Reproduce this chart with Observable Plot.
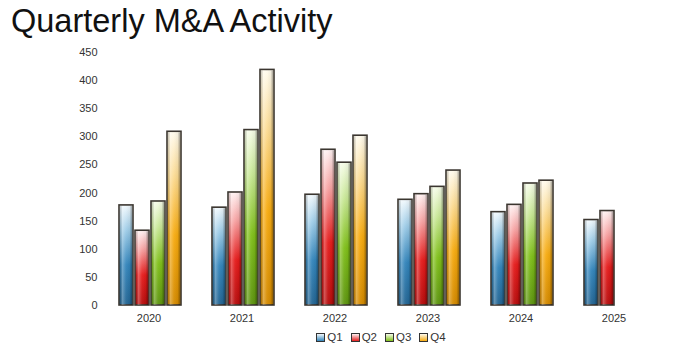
<!DOCTYPE html>
<html>
<head>
<meta charset="utf-8">
<script src="https://cdn.jsdelivr.net/npm/d3@7"></script>
<script src="https://cdn.jsdelivr.net/npm/@observablehq/plot@0.6"></script>
<style>
  body { margin: 0; background: #fff; font-family: "Liberation Sans", Arial, sans-serif; }
  #wrap { position: relative; width: 682px; height: 351px; }
  #title { position: absolute; left: 11px; top: 3px; font-size: 32.5px; color: #111; white-space: nowrap; }
  #chart { position: absolute; left: 0; top: 0; }
  #legend { position: absolute; top: 331px; left: 0; width: 682px; display: flex; justify-content: center; padding-left: 88px; box-sizing: border-box; font-size: 11.5px; color: #333; }
  .item { display: flex; align-items: center; margin-right: 8px; }
  .sw { width: 7px; height: 7px; border: 1px solid #333; margin-right: 2px; }
</style>
</head>
<body>
<div id="wrap">
  <div id="chart"></div>
  <div id="title">Quarterly M&amp;A Activity</div>
  <div id="legend"></div>
</div>
<script>
const years = ["2020", "2021", "2022", "2023", "2024", "2025"];
const quarters = ["Q1", "Q2", "Q3", "Q4"];
const q1 = [178, 174, 197, 188, 166, 152];
const q2 = [133, 201, 277, 198, 179, 168];
const q3 = [185, 312, 254, 211, 217, null];
const q4 = [309, 419, 302, 240, 222, null];
const yTicks = [0, 50, 100, 150, 200, 250, 300, 350, 400, 450];
const palette = {
  Q1: ["#f2f9fd", "#9fcde8", "#3385bb", "#236593"],
  Q2: ["#fff2f2", "#f7a3a3", "#e61c1c", "#b80d0d"],
  Q3: ["#f6fce8", "#c9e897", "#80c01a", "#5e9510"],
  Q4: ["#fffbee", "#fcdc95", "#f7ab10", "#d48a00"]
};

const series = [q1, q2, q3, q4];
const data = [];
years.forEach((y, i) => {
  quarters.forEach((q, j) => {
    const v = series[j][i];
    if (v != null) data.push({year: y, q, v});
  });
});

const chart = Plot.plot({
  width: 682,
  height: 351,
  marginTop: 52,
  marginBottom: 46,
  marginLeft: 103,
  marginRight: 19,
  style: {fontFamily: "'Liberation Sans', Arial, sans-serif", fontSize: "11px", color: "#333", background: "transparent"},
  fx: {domain: years, paddingInner: 0, paddingOuter: 0, label: null},
  x: {domain: quarters, axis: null, paddingInner: 0.1, paddingOuter: 0.85},
  y: {domain: [0, 450], ticks: yTicks, label: null},
  color: {type: "identity"},
  marks: [
    Plot.gridY(yTicks, {stroke: "#e4e4e4", strokeOpacity: 1, facet: "exclude", x1: 0}),
    Plot.axisY({ticks: yTicks, tickSize: 0, tickPadding: 7, label: null, fill: "#333"}),
    Plot.axisFx({anchor: "bottom", tickSize: 0, tickPadding: 9, label: null, fill: "#333", dx: -2}),
    Plot.barY(data, {fx: "year", x: "q", y: "v", fill: d => `url(#g${d.q})`, stroke: "#3b3630", strokeWidth: 1.6}),
    Plot.barY(data, {fx: "year", x: "q", y: "v", fill: () => "url(#gshade)", insetLeft: 1, insetRight: 1, insetTop: 1})
  ]
});

// gradient defs
const svg = d3.select(chart);
const defs = svg.insert("defs", ":first-child");
for (const q of quarters) {
  const c = palette[q];
  const g = defs.append("linearGradient").attr("id", "g" + q).attr("x1", 0).attr("y1", 0).attr("x2", 0).attr("y2", 1);
  g.append("stop").attr("offset", "0").attr("stop-color", c[0]);
  g.append("stop").attr("offset", "0.25").attr("stop-color", c[1]);
  g.append("stop").attr("offset", "0.6").attr("stop-color", c[2]);
  g.append("stop").attr("offset", "1").attr("stop-color", c[3]);
}
const sh = defs.append("linearGradient").attr("id", "gshade").attr("x1", 0).attr("y1", 0).attr("x2", 1).attr("y2", 0);
sh.append("stop").attr("offset", "0").attr("stop-color", "#000").attr("stop-opacity", 0.18);
sh.append("stop").attr("offset", "0.2").attr("stop-color", "#fff").attr("stop-opacity", 0.3);
sh.append("stop").attr("offset", "0.5").attr("stop-color", "#fff").attr("stop-opacity", 0.05);
sh.append("stop").attr("offset", "0.8").attr("stop-color", "#000").attr("stop-opacity", 0.05);
sh.append("stop").attr("offset", "1").attr("stop-color", "#000").attr("stop-opacity", 0.35);

document.getElementById("chart").appendChild(chart);

const legend = document.getElementById("legend");
for (const q of quarters) {
  const c = palette[q];
  const item = document.createElement("div");
  item.className = "item";
  const sw = document.createElement("span");
  sw.className = "sw";
  sw.style.background = `linear-gradient(${c[0]}, ${c[2]})`;
  const t = document.createElement("span");
  t.textContent = q;
  item.appendChild(sw); item.appendChild(t);
  legend.appendChild(item);
}
</script>
</body>
</html>
